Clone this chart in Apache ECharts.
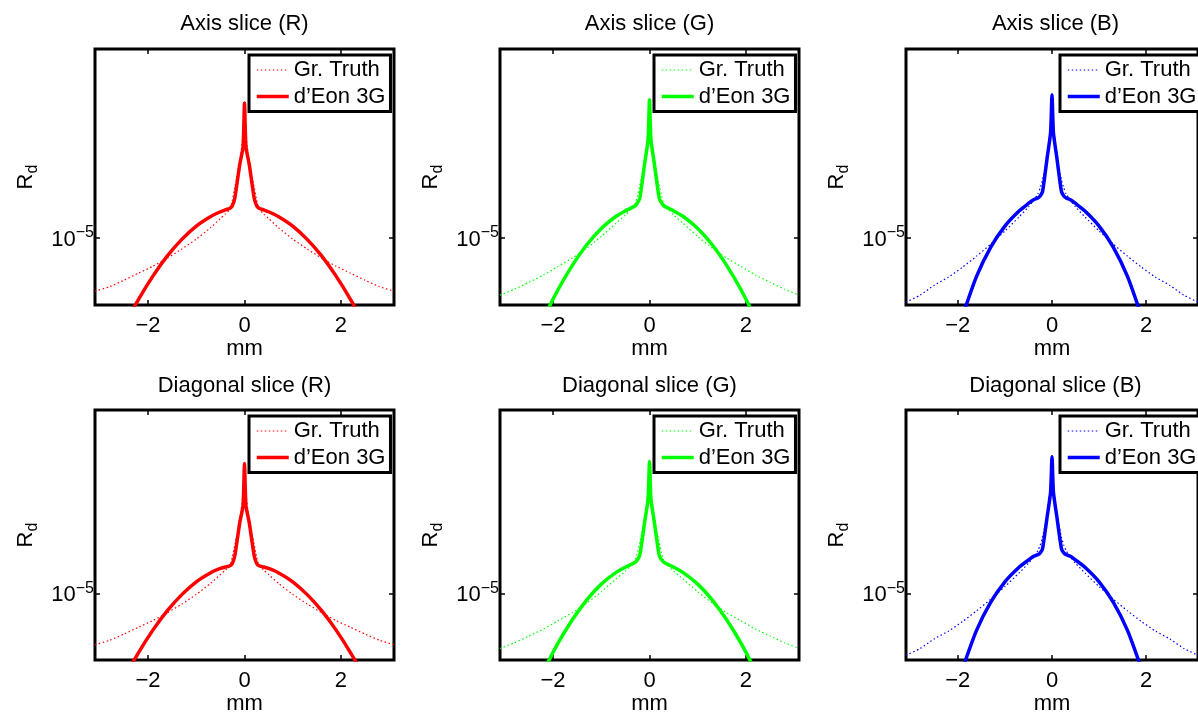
<!DOCTYPE html>
<html><head><meta charset="utf-8">
<script src="https://cdn.jsdelivr.net/npm/echarts@6/dist/echarts.min.js"></script>
<style>html,body{margin:0;padding:0;background:#fff;overflow:hidden}#c{width:1198px;height:716px}</style>
</head><body><div id="c"></div>
<script>
// ---- data (mm positions and R_d values) ----
const xPos = [-3.1,-2.8,-2.5,-2.2,-1.9,-1.6,-1.3,-1.0,-0.7,-0.5,-0.4,-0.3,-0.25,-0.2,-0.1,-0.03,0,0.03,0.1,0.2,0.25,0.3,0.4,0.5,0.7,1.0,1.3,1.6,1.9,2.2,2.5,2.8,3.1];

const axisR_truth = [6.66e-6,6.89e-6,7.24e-6,7.64e-6,8.06e-6,8.58e-6,9.19e-6,9.92e-6,1.084e-5,1.161e-5,1.202e-5,1.249e-5,1.339e-5,1.479e-5,1.778e-5,2.204e-5,2.630e-5,2.204e-5,1.778e-5,1.479e-5,1.339e-5,1.249e-5,1.202e-5,1.161e-5,1.084e-5,9.92e-6,9.19e-6,8.58e-6,8.06e-6,7.64e-6,7.24e-6,6.89e-6,6.66e-6];
const axisR_deon  = [3.11e-6,4.01e-6,5.09e-6,6.24e-6,7.47e-6,8.72e-6,9.90e-6,1.096e-5,1.180e-5,1.223e-5,1.240e-5,1.257e-5,1.283e-5,1.359e-5,1.751e-5,2.011e-5,2.812e-5,2.011e-5,1.751e-5,1.359e-5,1.283e-5,1.257e-5,1.240e-5,1.223e-5,1.180e-5,1.096e-5,9.90e-6,8.72e-6,7.47e-6,6.24e-6,5.09e-6,4.01e-6,3.11e-6];
const axisG_truth = [6.46e-6,6.76e-6,7.13e-6,7.53e-6,8.04e-6,8.58e-6,9.26e-6,1.012e-5,1.118e-5,1.193e-5,1.240e-5,1.298e-5,1.380e-5,1.502e-5,1.820e-5,2.256e-5,2.672e-5,2.256e-5,1.820e-5,1.502e-5,1.380e-5,1.298e-5,1.240e-5,1.193e-5,1.118e-5,1.012e-5,9.26e-6,8.58e-6,8.04e-6,7.53e-6,7.13e-6,6.76e-6,6.46e-6];
const axisG_deon  = [2.27e-6,3.14e-6,4.17e-6,5.38e-6,6.72e-6,8.11e-6,9.50e-6,1.076e-5,1.179e-5,1.231e-5,1.254e-5,1.278e-5,1.308e-5,1.359e-5,1.769e-5,2.122e-5,2.884e-5,2.122e-5,1.769e-5,1.359e-5,1.308e-5,1.278e-5,1.254e-5,1.231e-5,1.179e-5,1.076e-5,9.50e-6,8.11e-6,6.72e-6,5.38e-6,4.17e-6,3.14e-6,2.27e-6];
const axisB_truth = [6.12e-6,6.46e-6,6.97e-6,7.41e-6,8.00e-6,8.71e-6,9.55e-6,1.055e-5,1.175e-5,1.269e-5,1.328e-5,1.402e-5,1.468e-5,1.561e-5,1.891e-5,2.380e-5,2.776e-5,2.380e-5,1.891e-5,1.561e-5,1.468e-5,1.402e-5,1.328e-5,1.269e-5,1.175e-5,1.055e-5,9.55e-6,8.71e-6,8.00e-6,7.41e-6,6.97e-6,6.46e-6,6.12e-6];
const axisB_deon  = [1.02e-6,1.68e-6,2.67e-6,3.92e-6,5.50e-6,7.47e-6,9.33e-6,1.096e-5,1.230e-5,1.303e-5,1.339e-5,1.359e-5,1.380e-5,1.429e-5,1.862e-5,2.239e-5,2.997e-5,2.239e-5,1.862e-5,1.429e-5,1.380e-5,1.359e-5,1.339e-5,1.303e-5,1.230e-5,1.096e-5,9.33e-6,7.47e-6,5.50e-6,3.92e-6,2.67e-6,1.68e-6,1.02e-6];

const diagR_truth = [6.66e-6,6.89e-6,7.24e-6,7.64e-6,8.06e-6,8.58e-6,9.19e-6,9.92e-6,1.084e-5,1.161e-5,1.202e-5,1.249e-5,1.339e-5,1.479e-5,1.778e-5,2.204e-5,2.620e-5,2.204e-5,1.778e-5,1.479e-5,1.339e-5,1.249e-5,1.202e-5,1.161e-5,1.084e-5,9.92e-6,9.19e-6,8.58e-6,8.06e-6,7.64e-6,7.24e-6,6.89e-6,6.66e-6];
const diagR_deon  = [3.11e-6,4.01e-6,5.09e-6,6.24e-6,7.47e-6,8.72e-6,9.90e-6,1.096e-5,1.178e-5,1.218e-5,1.232e-5,1.245e-5,1.270e-5,1.350e-5,1.745e-5,2.005e-5,2.800e-5,2.005e-5,1.745e-5,1.350e-5,1.270e-5,1.245e-5,1.232e-5,1.218e-5,1.178e-5,1.096e-5,9.90e-6,8.72e-6,7.47e-6,6.24e-6,5.09e-6,4.01e-6,3.11e-6];
const diagG_truth = [6.46e-6,6.76e-6,7.13e-6,7.53e-6,8.04e-6,8.58e-6,9.26e-6,1.012e-5,1.118e-5,1.193e-5,1.240e-5,1.298e-5,1.380e-5,1.502e-5,1.820e-5,2.256e-5,2.650e-5,2.256e-5,1.820e-5,1.502e-5,1.380e-5,1.298e-5,1.240e-5,1.193e-5,1.118e-5,1.012e-5,9.26e-6,8.58e-6,8.04e-6,7.53e-6,7.13e-6,6.76e-6,6.46e-6];
const diagG_deon  = [2.27e-6,3.14e-6,4.17e-6,5.38e-6,6.72e-6,8.11e-6,9.50e-6,1.076e-5,1.179e-5,1.231e-5,1.254e-5,1.278e-5,1.305e-5,1.355e-5,1.760e-5,2.110e-5,2.844e-5,2.110e-5,1.760e-5,1.355e-5,1.305e-5,1.278e-5,1.254e-5,1.231e-5,1.179e-5,1.076e-5,9.50e-6,8.11e-6,6.72e-6,5.38e-6,4.17e-6,3.14e-6,2.27e-6];
const diagB_truth = [6.12e-6,6.46e-6,6.97e-6,7.41e-6,8.00e-6,8.71e-6,9.55e-6,1.055e-5,1.175e-5,1.269e-5,1.328e-5,1.402e-5,1.468e-5,1.561e-5,1.891e-5,2.380e-5,2.750e-5,2.380e-5,1.891e-5,1.561e-5,1.468e-5,1.402e-5,1.328e-5,1.269e-5,1.175e-5,1.055e-5,9.55e-6,8.71e-6,8.00e-6,7.41e-6,6.97e-6,6.46e-6,6.12e-6];
const diagB_deon  = [1.02e-6,1.68e-6,2.67e-6,3.92e-6,5.50e-6,7.47e-6,9.33e-6,1.096e-5,1.230e-5,1.303e-5,1.339e-5,1.359e-5,1.378e-5,1.425e-5,1.850e-5,2.230e-5,2.956e-5,2.230e-5,1.850e-5,1.425e-5,1.378e-5,1.359e-5,1.339e-5,1.303e-5,1.230e-5,1.096e-5,9.33e-6,7.47e-6,5.50e-6,3.92e-6,2.67e-6,1.68e-6,1.02e-6];

const xTicks = [-2, 0, 2];
const yTicks = [1e-5];
const titles = ['Axis slice (R)','Axis slice (G)','Axis slice (B)','Diagonal slice (R)','Diagonal slice (G)','Diagonal slice (B)'];
const legendNames = ['Gr. Truth', 'd\u2019Eon 3G'];
const colors = ['#ff0000', '#00ff00', '#0000ff'];
const truthSets = [axisR_truth, axisG_truth, axisB_truth, diagR_truth, diagG_truth, diagB_truth];
const deonSets  = [axisR_deon, axisG_deon, axisB_deon, diagR_deon, diagG_deon, diagB_deon];

// ---- layout ----
const FONT = '"Liberation Sans", Arial, Helvetica, sans-serif';
const colLeft = [95, 500, 906];
const colW = 299;
const rowCfg = [
  {top: 49, height: 256, min: 5.99e-6, max: 4.25e-5, titleTop: 13, legendTop: 55},
  {top: 410, height: 258, min: 5.89e-6, max: 4.28e-5, titleTop: 375, legendTop: 416}
];
const legendLeft = [249, 654, 1060];
const XMIN = -3.1, XMAX = 3.1;
const TRUTH_W = 1.2, DEON_W = 3.5, TRUTH_DASH = [1.5, 2.5];

const minusFmt = v => (v < 0 ? '\u2212' + Math.abs(v) : String(v));
const powFmt = v => {
  const e = Math.round(Math.log10(v));
  return '{b|10}{s|' + (e < 0 ? '\u2212' : '') + Math.abs(e) + '}';
};

const option = {
  animation: false,
  backgroundColor: '#fff',
  title: [], grid: [], xAxis: [], yAxis: [], legend: [], series: []
};

for (let i = 0; i < 6; i++) {
  const col = i % 3, row = rowCfg[Math.floor(i / 3)];
  const x0 = colLeft[col] + colW / 2;
  const c = colors[col];
  option.title.push({
    text: titles[i], left: x0, top: row.titleTop, textAlign: 'center', padding: 0,
    textStyle: {fontSize: 22, fontWeight: 'normal', color: '#000', fontFamily: FONT}
  });
  option.grid.push({
    left: colLeft[col], top: row.top, width: colW, height: row.height,
    show: true, borderColor: '#000', borderWidth: 3, backgroundColor: 'transparent'
  });
  const tickStyle = {inside: true, length: 5, lineStyle: {color: '#000', width: 1.5}};
  const noLine = {show: false, onZero: false};
  option.xAxis.push({
    gridIndex: i, type: 'value', min: XMIN, max: XMAX, position: 'bottom',
    axisLine: noLine, splitLine: {show: false},
    axisTick: Object.assign({customValues: xTicks}, tickStyle),
    axisLabel: {customValues: xTicks, formatter: minusFmt, fontSize: 22, color: '#000', fontFamily: FONT, margin: 10},
    name: 'mm', nameLocation: 'middle', nameGap: 28,
    nameTextStyle: {fontSize: 22, color: '#000', fontFamily: FONT}
  });
  option.xAxis.push({
    gridIndex: i, type: 'value', min: XMIN, max: XMAX, position: 'top',
    axisLine: noLine, splitLine: {show: false},
    axisTick: Object.assign({customValues: xTicks}, tickStyle),
    axisLabel: {show: false}
  });
  option.yAxis.push({
    gridIndex: i, type: 'log', logBase: 10, min: row.min, max: row.max, position: 'left',
    axisLine: noLine, splitLine: {show: false}, minorTick: {show: false},
    axisTick: Object.assign({customValues: yTicks}, tickStyle),
    axisLabel: {
      customValues: yTicks, formatter: powFmt, margin: 1, color: '#000', fontFamily: FONT,
      rich: {
        b: {fontSize: 22, lineHeight: 26, verticalAlign: 'bottom', color: '#000', fontFamily: FONT},
        s: {fontSize: 16, lineHeight: 14, verticalAlign: 'top', color: '#000', fontFamily: FONT}
      }
    },
    name: '{r|R}{d|d}', nameLocation: 'middle', nameRotate: 90, nameGap: 54,
    nameTextStyle: {
      color: '#000', fontFamily: FONT, fontSize: 22,
      rich: {
        r: {fontSize: 22, lineHeight: 26, verticalAlign: 'top', color: '#000', fontFamily: FONT},
        d: {fontSize: 16, lineHeight: 18, verticalAlign: 'bottom', padding: [17, 0, 0, 0], color: '#000', fontFamily: FONT}
      }
    }
  });
  option.yAxis.push({
    gridIndex: i, type: 'log', logBase: 10, min: row.min, max: row.max, position: 'right',
    axisLine: noLine, splitLine: {show: false}, minorTick: {show: false},
    axisTick: Object.assign({customValues: yTicks}, tickStyle),
    axisLabel: {show: false}
  });
  const nT = legendNames[0] + '|' + i, nD = legendNames[1] + '|' + i;
  option.legend.push({
    data: [
      {name: nT, lineStyle: {color: c, width: TRUTH_W, type: TRUTH_DASH}},
      {name: nD, lineStyle: {color: c, width: DEON_W, type: 'solid'}}
    ],
    left: legendLeft[col], top: row.legendTop, orient: 'vertical',
    itemWidth: 32, itemHeight: 14, itemGap: 2.5, padding: [3, 5, 3, 6],
    backgroundColor: '#fff', borderColor: '#000', borderWidth: 3, borderRadius: 0,
    selectedMode: false,
    itemStyle: {color: 'rgba(0,0,0,0)', borderWidth: 0, opacity: 0},
    formatter: n => n.split('|')[0],
    textStyle: {fontSize: 22, color: '#000', fontFamily: FONT, lineHeight: 24}
  });
  option.series.push({
    type: 'line', name: nT, xAxisIndex: 2 * i, yAxisIndex: 2 * i,
    data: xPos.map((x, k) => [x, truthSets[i][k]]),
    symbol: 'none', clip: true, z: 2, smooth: 0.2,
    itemStyle: {color: c},
    lineStyle: {color: c, width: TRUTH_W, type: TRUTH_DASH}
  });
  option.series.push({
    type: 'line', name: nD, xAxisIndex: 2 * i, yAxisIndex: 2 * i,
    data: xPos.map((x, k) => [x, deonSets[i][k]]),
    symbol: 'none', clip: true, z: 3, smooth: 0.2,
    itemStyle: {color: c},
    lineStyle: {color: c, width: DEON_W, type: 'solid'}
  });
}

const chart = echarts.init(document.getElementById('c'), null, {renderer: 'canvas'});
chart.setOption(option);
</script>
</body></html>
